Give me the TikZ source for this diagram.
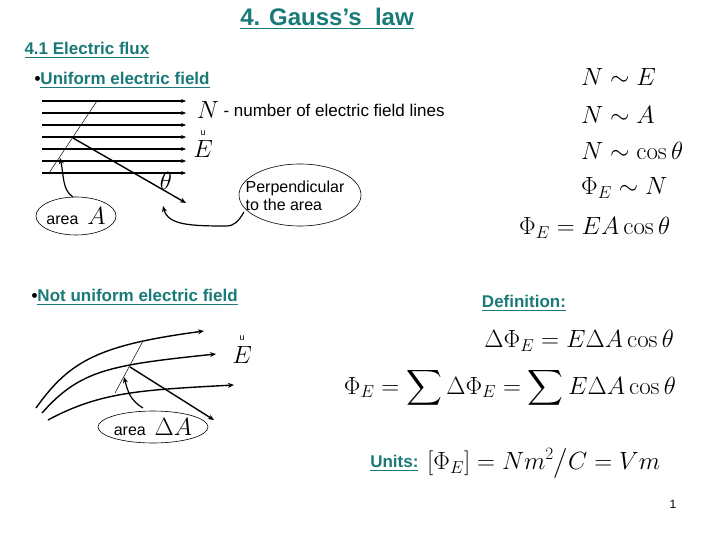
\documentclass[tikz,border=0pt]{standalone}
\usepackage{exscale}
\usepackage[no-math]{fontspec}
\setmainfont{Liberation Sans}
\usetikzlibrary{arrows.meta,shapes.geometric}
\definecolor{teal1}{HTML}{1A7A78}
\begin{document}
\begin{tikzpicture}[x=1pt,y=-1pt,
  hd/.style={text=teal1},
  fl/.style={line width=1.4pt,-{Stealth[length=6pt,width=5pt]}},
  thin/.style={line width=0.5pt},
  bub/.style={draw,ellipse,line width=0.6pt},
  eq/.style={font=\fontsize{24.5}{26}\selectfont,inner sep=0pt}]
\useasboundingbox (0,0) rectangle (720,540);
\node[hd,font=\fontsize{24}{26}\selectfont\bfseries] (t) at (327,19) {\underline{4. Gauss’s\ \ law}};
\node[hd,font=\fontsize{17}{20}\selectfont\bfseries,anchor=west] (s) at (21,50) {\underline{4.1 Electric flux}};
\node[hd,font=\fontsize{17}{20}\selectfont\bfseries,anchor=west] (u) at (31,80) {\textcolor{black}{\textbullet}\underline{Uniform electric field}};
% field lines
\foreach \i/\yy in {1/101,2/113,3/125,4/137,5/149,6/161,7/173}{
  \coordinate (l\i a) at (42,\yy); \coordinate (l\i b) at (186,\yy);
  \draw[line width=1.2pt,-{Stealth[length=5pt,width=4pt]}] (l\i a) -- (l\i b);}
\coordinate (p1) at (49,173); \coordinate (p2) at (97,101);
\draw[thin] (p1) -- (p2);
\coordinate (n1) at (73,138); \coordinate (n2) at (186,203);
\draw[fl] (n1) -- (n2);
\node (th) at (166,181) {\fontsize{24}{24}\selectfont$\theta$};
\node (N) at (208,110) {\fontsize{28}{28}\selectfont$N$};
\node[anchor=west,font=\fontsize{17}{20}\selectfont] (Nt) at (220,110) {- number of electric field lines};
\node (Eu) at (203,133) {\fontsize{9}{9}\selectfont u};
\node (E) at (203,149) {\fontsize{26}{26}\selectfont$E$};
\node[bub,minimum width=80pt,minimum height=38pt,inner sep=0pt] (ar) at (76,216) {};
\node[font=\fontsize{16}{18}\selectfont] (art) at (76,216) {area\ \ \fontsize{26}{26}\selectfont$A$};
\node[bub,minimum width=122pt,minimum height=62pt,inner sep=0pt] (pe) at (300,195) {};
\node[font=\fontsize{16}{18}\selectfont,align=left] (pet) at (295,196) {Perpendicular\\ to the area};
\draw[line width=1.2pt,-{Stealth[length=6pt,width=5pt]}] (73,197) .. controls (62,190) and (64,175) .. (60,158);
\draw[line width=1.2pt,-{Stealth[length=6pt,width=5pt]}] (244,212) .. controls (238,222) and (234,226) .. (226,226) .. controls (190,226) and (168,225) .. (163,206);
% right equations
\node[eq,anchor=west] (r1) at (581,77) {$N\sim E$};
\node[eq,anchor=west] (r2) at (581,115) {$N\sim A$};
\node[eq,anchor=west] (r3) at (581,151) {$N\sim\cos\theta$};
\node[eq,anchor=west] (r4) at (581,188) {$\Phi_E\sim N$};
\node[eq,anchor=west] (r5) at (519,228) {$\Phi_E=EA\cos\theta$};
% non-uniform
\node[hd,font=\fontsize{17}{20}\selectfont\bfseries,anchor=west] (nu) at (28,297) {\textcolor{black}{\textbullet}\underline{Not uniform electric field}};
\draw[fl] (36,408) .. controls (70,360) and (100,345) .. (204,331);
\draw[fl] (42,413) .. controls (80,370) and (110,365) .. (216,354);
\draw[fl] (48,420) .. controls (100,392) and (140,390) .. (234,385);
\draw[thin] (115,393) -- (143,341);
\draw[fl] (130,367) -- (214,420);
\node (Eu2) at (242,338) {\fontsize{9}{9}\selectfont u};
\node (E2) at (242,355) {\fontsize{26}{26}\selectfont$E$};
\draw[line width=1.2pt,-{Stealth[length=6pt,width=5pt]}] (143,408) .. controls (130,400) and (128,392) .. (124,377);
\node[bub,minimum width=110pt,minimum height=32pt,inner sep=0pt] (ar2) at (153,427) {};
\node[font=\fontsize{16}{18}\selectfont] (ar2t) at (153,427) {area\ \ \fontsize{26}{26}\selectfont$\Delta A$};
\node[hd,font=\fontsize{17}{20}\selectfont\bfseries] (def) at (524,303) {\underline{Definition:}};
\node[eq,anchor=east] (d1) at (674,341) {$\Delta\Phi_E=E\Delta A\cos\theta$};
\node[eq,anchor=east] (d2) at (676,388) {$\displaystyle\Phi_E=\sum\nolimits\Delta\Phi_E=\sum\nolimits E\Delta A\cos\theta$};
\node[hd,font=\fontsize{17}{20}\selectfont\bfseries,anchor=east] (un) at (422,463) {\underline{Units:}};
\node[eq,anchor=west] (d3) at (427,463) {$\displaystyle\left[\Phi_E\right]=Nm^2\big/C=Vm$};
\node[font=\fontsize{12}{14}\selectfont] (pg) at (673,504) {1};
\end{tikzpicture}
\end{document}
